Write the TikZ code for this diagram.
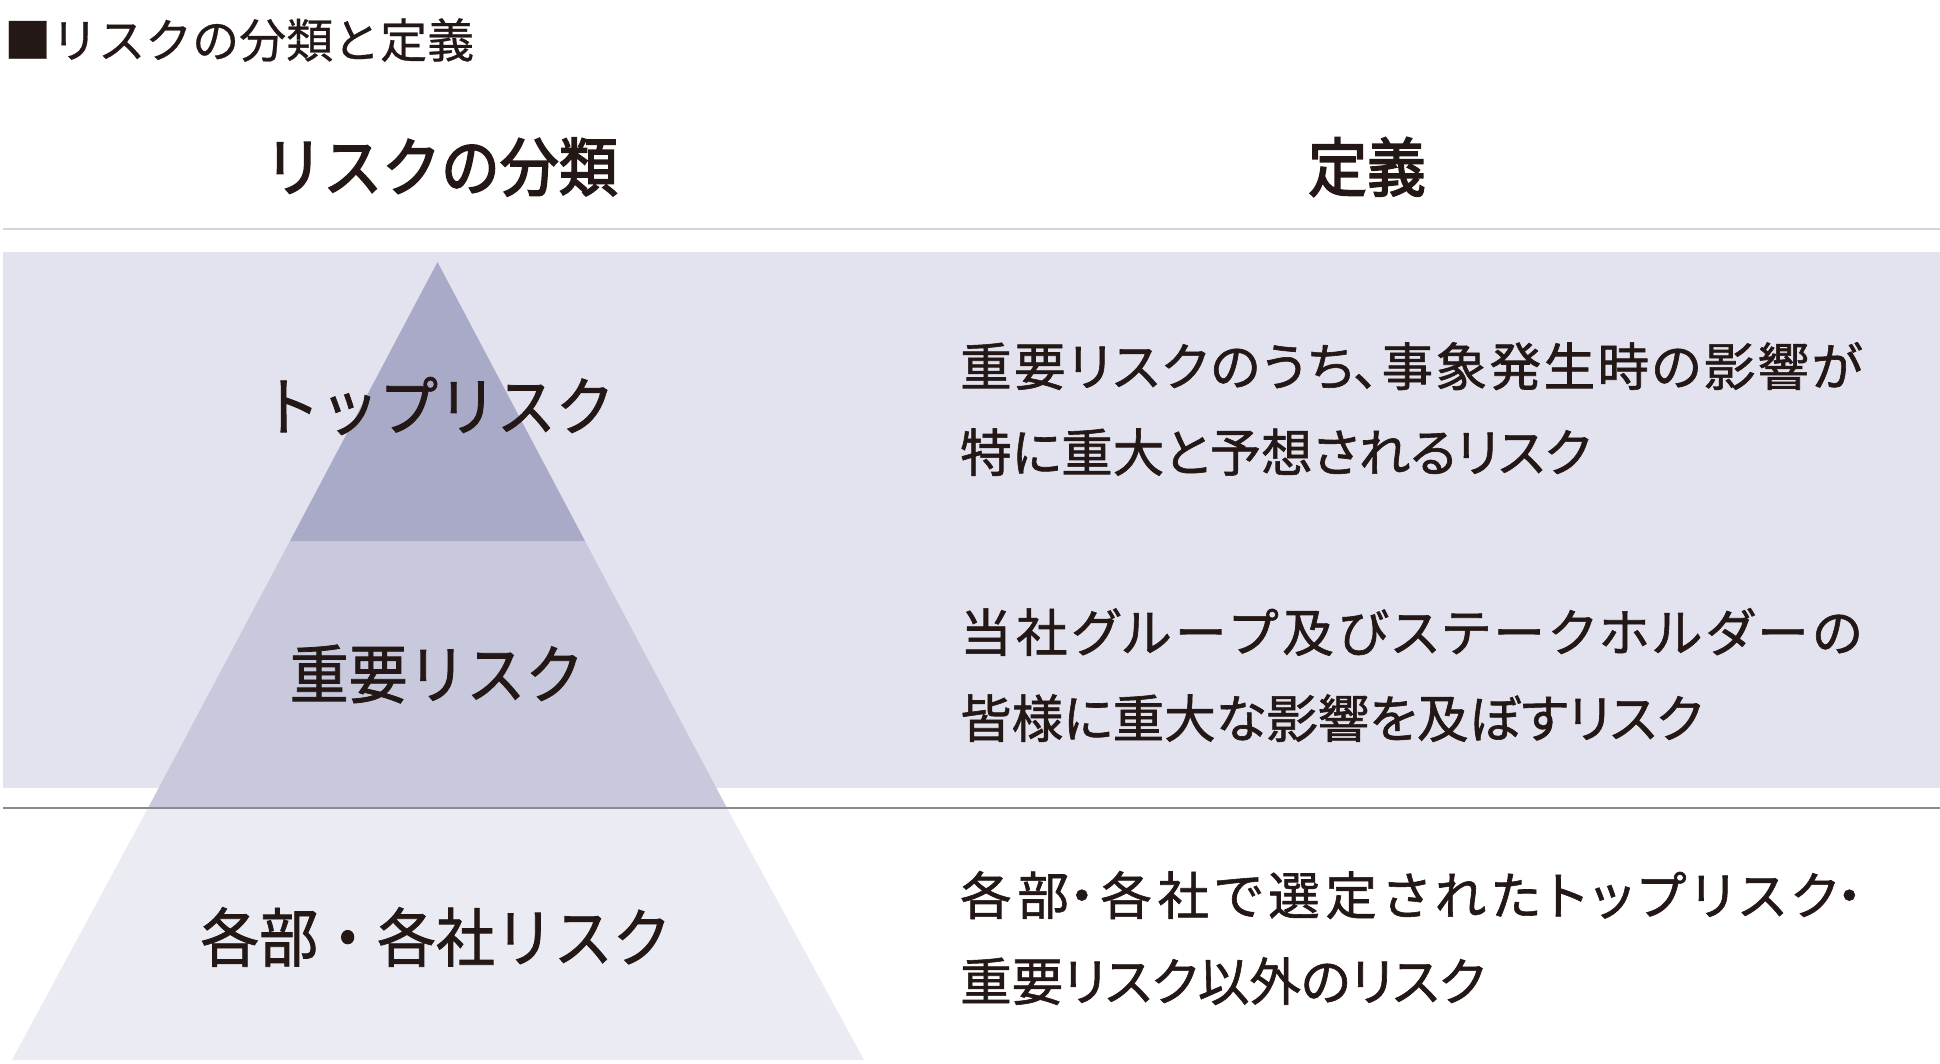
\documentclass[tikz,border=0pt]{standalone}
\usepackage{fontspec}
\newfontfamily\jpfont[FakeStretch=0.92, FakeBold=1.2]{Noto Sans CJK JP}
\newfontfamily\jphead[FakeStretch=0.92, FakeBold=2.6]{Noto Sans CJK JP}
\newfontfamily\jpbody[RawFeature=+palt, FakeBold=1.2]{Noto Sans CJK JP}
\newfontfamily\jpplain[FakeBold=0.6]{Noto Sans CJK JP}
\definecolor{ink1}{HTML}{231815}
\definecolor{band1}{HTML}{E3E3EF}
\definecolor{tier1}{HTML}{A9AAC8}
\definecolor{tier2}{HTML}{C8C9DC}
\definecolor{tier3}{HTML}{EAEBF3}
\definecolor{rule1}{HTML}{D2D4E1}
\definecolor{rule2}{HTML}{8C8A8C}
\usepackage{tikz}
\usetikzlibrary{positioning}
\XeTeXlinebreaklocale "ja"
\XeTeXlinebreakskip=0pt plus 30pt
% first line of each definition runs to full width
\newcommand\fullline[1]{\parbox[b]{902pt}{\noindent\leftskip=0pt\rightskip=0pt\parfillskip=0pt #1\par}}

\begin{document}
\begin{tikzpicture}[x=1pt, y=-1pt,
    headtext/.style={text=ink1, inner sep=0pt, font=\jphead\fontsize{64}{70}\selectfont},
    tierlabel/.style={text=ink1, inner sep=0pt, font=\jpfont\fontsize{64}{70}\selectfont},
    deftext/.style={text=ink1, anchor=west, align=left, inner sep=0pt, font=\jpbody\fontsize{51.5}{86}\selectfont}]
  \useasboundingbox (0,0) rectangle (1940,1063);

  % title and column heads
  \node[anchor=west, text=ink1, inner sep=0pt, font=\jpplain\fontsize{47}{52}\selectfont] (title) at (4,40) {■リスクの分類と定義};
  \node[headtext] (headcat) at (441,167) {リスクの分類};
  \node[headtext] (headdef) at (1367,167) {定義};
  \draw[rule1, line width=2pt] (3,229) -- (1940,229);

  % shaded band behind top two rows
  \fill[band1] (3,252) rectangle (1940,788);

  % pyramid
  \fill[tier3] (148,808) -- (727,808) -- (864,1060) -- (12,1060) -- cycle;
  \fill[tier2] (290,541) -- (585,541) -- (727,808) -- (148,808) -- cycle;
  \fill[tier1] (437.5,262) -- (585,541) -- (290,541) -- cycle;
  \draw[rule2, line width=1.5pt] (3,808) -- (1940,808);

  \node[tierlabel] (top) at (438,406) {トップリスク};
  \node[tierlabel] (major) at (437,674) {重要リスク};
  \node[tierlabel] (local) at (436,937) {各部・各社リスク};

  % definitions
  \node[deftext] (deftop) at (960,409) {\fullline{重要リスクのうち、事象発生時の影響が}\\特に重大と予想されるリスク};
  \node[deftext] (defmajor) at (960,675) {\fullline{当社グループ及びステークホルダーの}\\皆様に重大な影響を及ぼすリスク};
  \node[deftext] (deflocal) at (960,938) {\fullline{各部・各社で選定されたトップリスク・}\\重要リスク以外のリスク};
\end{tikzpicture}
\end{document}
